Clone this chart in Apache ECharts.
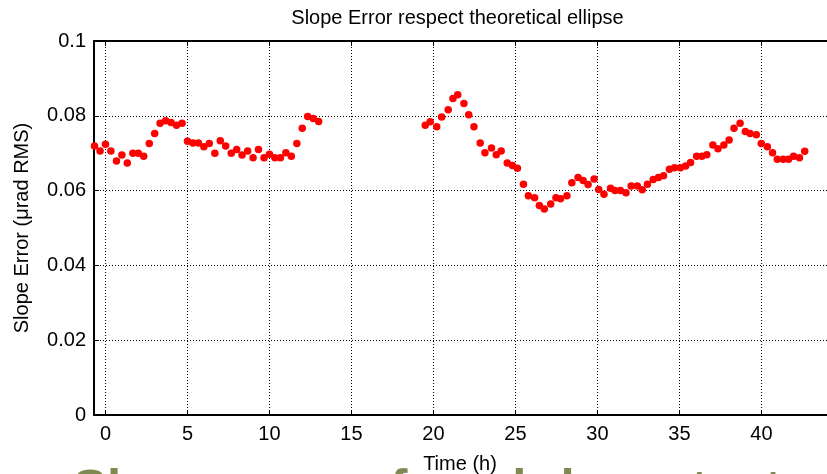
<!DOCTYPE html>
<html>
<head>
<meta charset="utf-8">
<script src="https://cdn.jsdelivr.net/npm/echarts@6/dist/echarts.min.js"></script>
<style>
  html, body { margin: 0; padding: 0; background: #ffffff; }
  #chart { width: 827px; height: 474px; }
</style>
</head>
<body>
<div id="chart"></div>
<script>
// Measurement run: slope error (µrad RMS) versus elapsed time (h)
const timeHours = [
  -0.67, -0.33, 0, 0.33, 0.67, 1, 1.33, 1.67, 2, 2.33, 2.67, 3, 3.33, 3.67,
  4, 4.33, 4.67, 5, 5.33, 5.67, 6, 6.33, 6.67, 7, 7.33, 7.67, 8, 8.33,
  8.67, 9, 9.33, 9.67, 10, 10.33, 10.67, 11, 11.33, 11.67, 12, 12.33, 12.67, 13,
  19.5, 19.8, 20.2, 20.5, 20.9, 21.19, 21.48, 21.86, 22.15, 22.47, 22.85, 23.14,
  23.54, 23.83, 24.13, 24.5, 24.82, 25.12, 25.49, 25.79, 26.17, 26.46, 26.76, 27.15,
  27.47, 27.75, 28.14, 28.44, 28.82, 29.13, 29.43, 29.8, 30.08, 30.4, 30.8, 31.07,
  31.4, 31.74, 32.06, 32.43, 32.73, 33.05, 33.4, 33.72, 34.03, 34.39, 34.7, 35.06,
  35.38, 35.68, 36.05, 36.37, 36.67, 37.04, 37.35, 37.71, 38.03, 38.33, 38.7, 39.02,
  39.31, 39.69, 39.99, 40.36, 40.68, 40.97, 41.33, 41.65, 41.96, 42.32, 42.64
];
const slopeError = [
  0.0719, 0.0706, 0.0724, 0.0706, 0.0679, 0.0695, 0.0674, 0.0700, 0.0700, 0.0692,
  0.0726, 0.0753, 0.0780, 0.0787, 0.0782, 0.0775, 0.0780, 0.0732, 0.0727, 0.0727,
  0.0717, 0.0726, 0.0700, 0.0733, 0.0719, 0.0700, 0.0710, 0.0695, 0.0706, 0.0688,
  0.0710, 0.0688, 0.0697, 0.0688, 0.0688, 0.0701, 0.0692, 0.0726, 0.0767, 0.0798,
  0.0793, 0.0785,
  0.0775, 0.0784, 0.0771, 0.0797, 0.0816, 0.0846, 0.0856, 0.0833, 0.0803, 0.0771,
  0.0727, 0.0701, 0.0714, 0.0696, 0.0706, 0.0674, 0.0667, 0.0660, 0.0617, 0.0586,
  0.0581, 0.0560, 0.0551, 0.0564, 0.0581, 0.0578, 0.0586, 0.0621, 0.0635, 0.0627,
  0.0616, 0.0631, 0.0603, 0.0590, 0.0606, 0.0600, 0.0600, 0.0594, 0.0612, 0.0612,
  0.0602, 0.0617, 0.0630, 0.0635, 0.0640, 0.0657, 0.0661, 0.0661, 0.0666, 0.0675,
  0.0692, 0.0692, 0.0696, 0.0722, 0.0712, 0.0722, 0.0735, 0.0767, 0.0780, 0.0758,
  0.0753, 0.0749, 0.0726, 0.0717, 0.0701, 0.0684, 0.0684, 0.0684, 0.0692, 0.0688,
  0.0705
];

const chartTitle = 'Slope Error respect theoretical ellipse';
const xAxisTitle = 'Time (h)';
const yAxisTitle = 'Slope Error (\u03bcrad RMS)';
const slideHeading = 'Slope error of cool-down test';

const FONT = "'Liberation Sans', Arial, Helvetica, sans-serif";
const points = timeHours.map((t, i) => [t, slopeError[i]]);

const chart = echarts.init(document.getElementById('chart'), null, { renderer: 'canvas' });

const gridLine = { show: true, lineStyle: { color: '#000', width: 1, type: [1, 2] } };

chart.setOption({
  animation: false,
  backgroundColor: '#ffffff',
  grid: { left: 94, top: 41, width: 753.6, height: 374, containLabel: false },
  graphic: [
    {
      type: 'text', z: 0, left: 73, top: 466,
      style: { text: slideHeading, font: 'bold 51px ' + FONT, fill: '#7f8a50' }
    },
    {
      type: 'text', z: 10, x: 457.5, y: 18,
      style: { text: chartTitle, font: '20px ' + FONT, fill: '#000', align: 'center', verticalAlign: 'middle' }
    },
    {
      type: 'text', z: 10, x: 460, y: 464,
      style: { text: xAxisTitle, font: '20px ' + FONT, fill: '#000', align: 'center', verticalAlign: 'middle' }
    }
  ],
  xAxis: [
    {
      type: 'value', position: 'bottom', min: -0.7, max: 44, splitNumber: 9,
      axisLine: { show: true, onZero: false, lineStyle: { color: '#000', width: 2 } },
      axisTick: { show: true, inside: true, length: 5, lineStyle: { color: '#000', width: 1 } },
      axisLabel: {
        show: true, margin: 9, color: '#000', fontFamily: FONT, fontSize: 20,
        showMinLabel: false, showMaxLabel: false,
        formatter: v => (Math.abs(v % 5) < 1e-6 ? String(v) : '')
      },
      splitLine: gridLine
    },
    {
      type: 'value', position: 'top', min: -0.7, max: 44, splitNumber: 9,
      axisLine: { show: true, onZero: false, lineStyle: { color: '#000', width: 2 } },
      axisTick: { show: true, inside: true, length: 5, lineStyle: { color: '#000', width: 1 } },
      axisLabel: { show: false },
      splitLine: { show: false }
    }
  ],
  yAxis: {
    type: 'value', min: 0, max: 0.1, interval: 0.02,
    name: yAxisTitle, nameLocation: 'middle', nameGap: 62, nameRotate: 90,
    nameTextStyle: { color: '#000', fontFamily: FONT, fontSize: 20 },
    axisLine: { show: true, onZero: false, lineStyle: { color: '#000', width: 2 } },
    axisTick: { show: true, inside: true, length: 5, lineStyle: { color: '#000', width: 1 } },
    axisLabel: { show: true, margin: 8, color: '#000', fontFamily: FONT, fontSize: 20 },
    splitLine: gridLine
  },
  series: [{
    type: 'scatter', xAxisIndex: 0, yAxisIndex: 0,
    data: points, clip: false,
    symbol: 'circle', symbolSize: 7.5,
    itemStyle: { color: '#ff0000', opacity: 1 },
    emphasis: { disabled: true }
  }]
});
</script>
</body>
</html>
